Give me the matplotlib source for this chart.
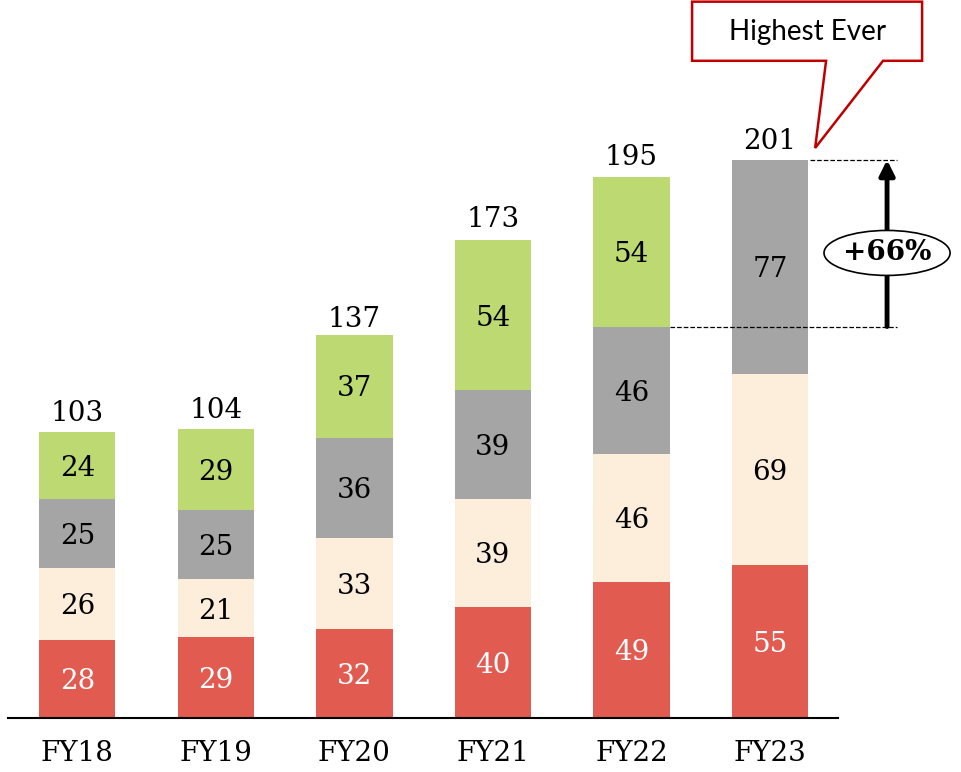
# stacked_fy_bars.py
# Stacked bars FY18-FY23 with totals and a "Highest Ever" callout.

import matplotlib
matplotlib.use("Agg")
import matplotlib.pyplot as plt
from matplotlib.patches import Polygon, Ellipse
import numpy as np

# ---- data ----
years = ["FY18", "FY19", "FY20", "FY21", "FY22", "FY23"]
red = [28, 29, 32, 40, 49, 55]
beige = [26, 21, 33, 39, 46, 69]
gray = [25, 25, 36, 39, 46, 77]
green = [24, 29, 37, 54, 54, 0]
totals = [103, 104, 137, 173, 195, 201]
growth_label = "+66%"
callout_text = "Highest Ever"
# --------------

SERIF = "DejaVu Serif"
SANS = "Lato"
FS = 20

series = [
    (red, "#E15B50", "white"),
    (beige, "#FDEEDB", "black"),
    (gray, "#A5A5A5", "black"),
    (green, "#BDD971", "black"),
]

fig = plt.figure(figsize=(9.61, 7.72), dpi=100)
ax = fig.add_axes([8 / 961, 54 / 772, 830 / 961, 718 / 772])

x = np.arange(len(years))
width = 0.55
bottom = np.zeros(len(years))
for vals, color, tcolor in series:
    vals = np.array(vals, dtype=float)
    ax.bar(x, vals, width, bottom=bottom, color=color, edgecolor="none")
    for xi, b, v in zip(x, bottom, vals):
        if v > 0:
            ax.text(xi, b + v / 2 - 1, f"{int(v)}", ha="center", va="center",
                    fontsize=FS, family=SERIF, color=tcolor)
    bottom += vals

for xi, t in zip(x, totals):
    ax.text(xi, t + 4, f"{t}", ha="center", va="baseline",
            fontsize=FS, family=SERIF, color="black")

ax.set_xlim(-0.5, 5.49)
ax.set_ylim(0, 258.6)
ax.set_xticks(x)
ax.set_xticklabels(years, fontsize=FS, family=SERIF)
ax.tick_params(axis="x", length=0, pad=16)
ax.set_yticks([])
for s in ["top", "right", "left"]:
    ax.spines[s].set_visible(False)
ax.spines["bottom"].set_linewidth(1.5)

# growth arrow between FY22 stack (w/o green) and FY23 total
prev_level = red[4] + beige[4] + gray[4]
top_level = totals[5]
ax_x = 5.844
ax.plot([5.29, 5.916], [top_level, top_level], ls="--", color="black", lw=0.9, clip_on=False)
ax.plot([4.28, 5.916], [prev_level, prev_level], ls="--", color="black", lw=0.9, clip_on=False)
ax.annotate("", xy=(ax_x, top_level), xytext=(ax_x, prev_level),
            arrowprops=dict(arrowstyle="-|>,head_width=0.45,head_length=0.9",
                            color="black", lw=3.5, shrinkA=0, shrinkB=0),
            annotation_clip=False)
mid = (top_level + prev_level) / 2 - 3.5
ax.add_patch(Ellipse((ax_x, mid), 0.91, 16.2, facecolor="white",
                     edgecolor="black", lw=1.2, clip_on=False, zorder=5))
ax.text(ax_x, mid, growth_label, ha="center", va="center", fontsize=20,
        family=SERIF, weight="bold", zorder=6)

# callout box
box = [(4.437, 236.7), (5.404, 236.7), (5.325, 205.3), (5.815, 236.7),
       (6.097, 236.7), (6.097, 258.0), (4.437, 258.0)]
ax.add_patch(Polygon(box, closed=True, facecolor="white", edgecolor="#C00000",
                     lw=1.8, clip_on=False, zorder=5))
ax.text((4.437 + 6.097) / 2, 247.2, callout_text, ha="center", va="center",
        fontsize=20, family=SANS, zorder=6)

fig.savefig("out.png", dpi=100)
